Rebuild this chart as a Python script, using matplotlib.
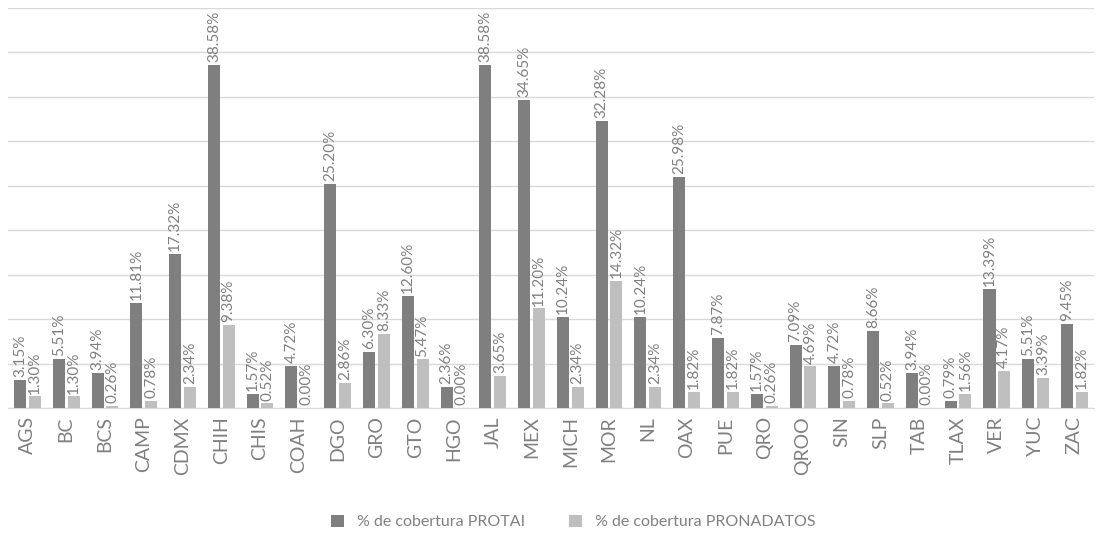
import matplotlib
matplotlib.use("Agg")
import matplotlib.pyplot as plt
import numpy as np

estados = ["AGS", "BC", "BCS", "CAMP", "CDMX", "CHIH", "CHIS", "COAH", "DGO", "GRO",
           "GTO", "HGO", "JAL", "MEX", "MICH", "MOR", "NL", "OAX", "PUE", "QRO",
           "QROO", "SIN", "SLP", "TAB", "TLAX", "VER", "YUC", "ZAC"]
protai = [3.15, 5.51, 3.94, 11.81, 17.32, 38.58, 1.57, 4.72, 25.20, 6.30,
          12.60, 2.36, 38.58, 34.65, 10.24, 32.28, 10.24, 25.98, 7.87, 1.57,
          7.09, 4.72, 8.66, 3.94, 0.79, 13.39, 5.51, 9.45]
pronadatos = [1.30, 1.30, 0.26, 0.78, 2.34, 9.38, 0.52, 0.00, 2.86, 8.33,
              5.47, 0.00, 3.65, 11.20, 2.34, 14.32, 2.34, 1.82, 1.82, 0.26,
              4.69, 0.78, 0.52, 0.00, 1.56, 4.17, 3.39, 1.82]
series_names = ["% de cobertura PROTAI", "% de cobertura PRONADATOS"]

plt.rcParams['font.family'] = ['Lato', 'DejaVu Sans']
txt = '#808080'

fig = plt.figure(figsize=(10.96, 5.54), dpi=100)
ax = fig.add_axes([0.0073, 0.2635, 0.9907, 0.7221])

x = np.arange(len(estados))
w = 0.31
off = 0.19
b1 = ax.bar(x - off, protai, w, color='#7f7f7f', label=series_names[0], zorder=3)
b2 = ax.bar(x + off, pronadatos, w, color='#bfbfbf', label=series_names[1], zorder=3)

for bars, vals in ((b1, protai), (b2, pronadatos)):
    for r, v in zip(bars, vals):
        ax.annotate(f"{v:.2f}%", (r.get_x() + r.get_width() / 2, r.get_height()),
                    xytext=(0, 2), textcoords='offset points', rotation=90,
                    ha='center', va='bottom', fontsize=11, color=txt)

ax.set_xlim(-0.5, len(estados) - 0.5)
ax.set_ylim(0, 45)
ax.set_yticks(np.arange(0, 46, 5))
ax.set_yticklabels([])
ax.tick_params(axis='y', length=0)
ax.tick_params(axis='x', length=0, pad=6)
ax.set_xticks(x)
ax.set_xticklabels(estados, rotation=90, fontsize=14, color=txt)
ax.grid(axis='y', color='#d9d9d9', linewidth=1, zorder=0)
for s in ['top', 'right', 'left']:
    ax.spines[s].set_visible(False)
ax.spines['bottom'].set_color('#d9d9d9')

leg = fig.legend(handles=[b1, b2], loc='center', bbox_to_anchor=(0.523, 0.058), ncol=2,
                 frameon=False, fontsize=11.5, columnspacing=2.8, handlelength=0.8,
                 handleheight=0.8, handletextpad=0.8)
for t in leg.get_texts():
    t.set_color(txt)

fig.savefig("out.png", dpi=100)
